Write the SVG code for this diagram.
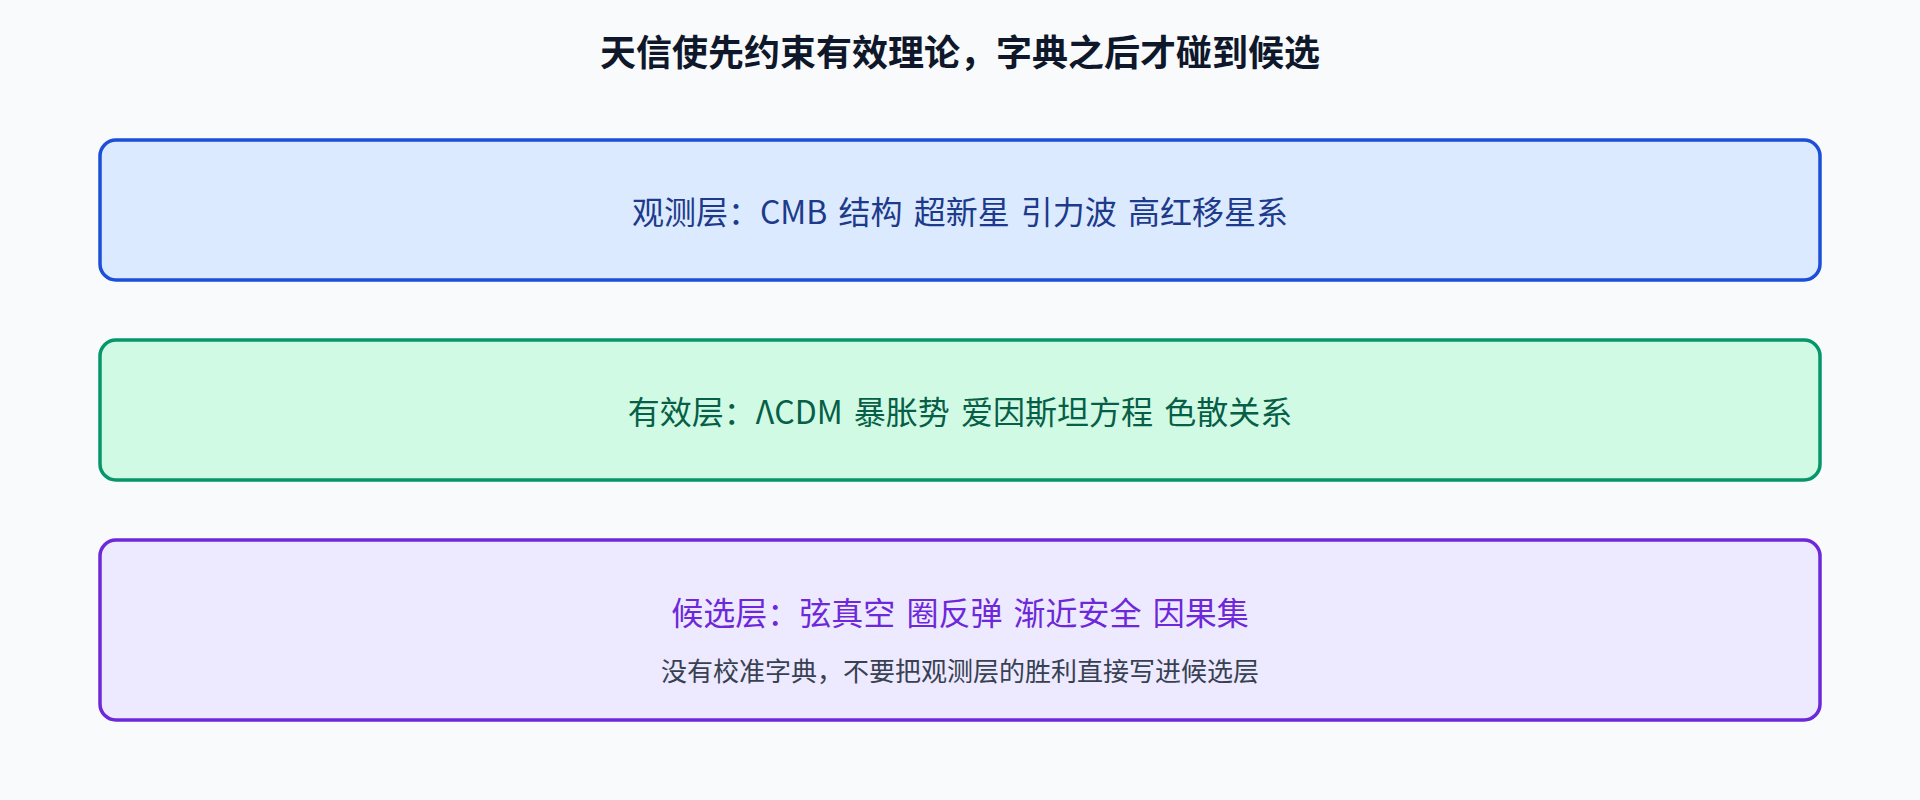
<svg xmlns="http://www.w3.org/2000/svg" width="1920" height="800" viewBox="0 0 1920 800">
<style>
text{font-family:"Noto Sans CJK SC","Noto Sans",sans-serif;text-anchor:middle;dominant-baseline:central}
.title{font-size:36px;font-weight:700;fill:#0f172a}
.main{font-size:32px;word-spacing:4px}
.sub{font-size:26px;fill:#374151}
.box{stroke-width:3.5}
</style>
<rect x="0" y="0" width="1920" height="800" fill="#f8fafc"/>
<g id="title"><text class="title" x="960" y="50">天信使先约束有效理论，字典之后才碰到候选</text></g>
<g id="obs">
<rect class="box" x="100" y="140" width="1720" height="140" rx="16" fill="#dbeafe" stroke="#1d4ed8"/>
<text class="main" x="960" y="210" fill="#1e3a8a">观测层：CMB 结构 超新星 引力波 高红移星系</text>
</g>
<g id="eff">
<rect class="box" x="100" y="340" width="1720" height="140" rx="16" fill="#d1fae5" stroke="#059669"/>
<text class="main" x="960" y="410" fill="#065f46">有效层：ΛCDM 暴胀势 爱因斯坦方程 色散关系</text>
</g>
<g id="cand">
<rect class="box" x="100" y="540" width="1720" height="180" rx="16" fill="#ede9fe" stroke="#6d28d9"/>
<text class="main" x="960" y="611" fill="#6d28d9">候选层：弦真空 圈反弹 渐近安全 因果集</text>
<text class="sub" x="960" y="669">没有校准字典，不要把观测层的胜利直接写进候选层</text>
</g>
<g id="connectors"/>
</svg>
